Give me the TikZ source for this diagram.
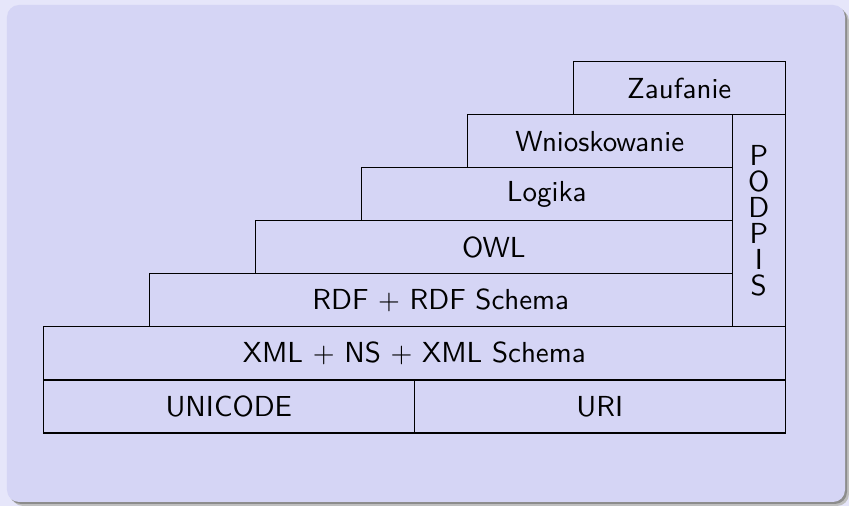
\documentclass[tikz,border=0pt]{standalone}
\usepackage{tikz}
\usetikzlibrary{positioning}
\definecolor{slidebg}{RGB}{230,230,250}
\definecolor{blockbg}{RGB}{213,213,245}
\tikzset{
    %Define style for one layer of the stack
    layer/.style={
           rectangle,
           draw=black, thin,
           outer sep=0pt,
           inner sep=0pt,
           minimum height=0.663cm,
           text centered},
    % Define style for the signature column
    sigbox/.style={
           layer,
           align=center,
           font=\sffamily\fontsize{10.3}{9.3}\selectfont,
           minimum width=0.6625cm,
           minimum height=2.652cm}
}

\begin{document}
\begin{tikzpicture}[node distance=0pt, font=\sffamily\fontsize{10.3}{12.4}\selectfont]
\useasboundingbox (0,0) rectangle (10.6125,6.325);
\fill[slidebg] (0,0) rectangle (10.6125,6.325);
% block with its shadow
\fill[black!25, rounded corners=0.15cm] (0.1375,0) rectangle (10.6125,6.2125);
\fill[black!45, rounded corners=0.15cm] (0.1125,0.025) rectangle (10.5875,6.2375);
\fill[blockbg, rounded corners=0.15cm] (0.0875,0.05) rectangle (10.5625,6.2625);

 \node[layer, minimum width=4.6375cm, anchor=south west](unicode) at (0.541,0.9125){UNICODE};
 \node[layer, minimum width=4.6375cm, right=of unicode](uri){URI};
 \node[layer, minimum width=9.275cm, above left=of uri.north east](xml){XML $+$ NS $+$ XML Schema};
 \node[layer, minimum width=7.2875cm, above left=0pt and 0.6625cm of xml.north east](rdf){RDF $+$ RDF Schema};
 \node[layer, minimum width=5.9625cm, above left=of rdf.north east](owl){OWL};
 \node[layer, minimum width=4.6375cm, above left=of owl.north east](logika){Logika};
 \node[layer, minimum width=3.3125cm, above left=of logika.north east](wnios){Wnioskowanie};
 \node[sigbox, above left=of xml.north east](podpis){P\\O\\D\\P\\I\\S};
 \node[layer, minimum width=2.65cm, above left=of podpis.north east](zauf){Zaufanie};
\end{tikzpicture}
\end{document}
